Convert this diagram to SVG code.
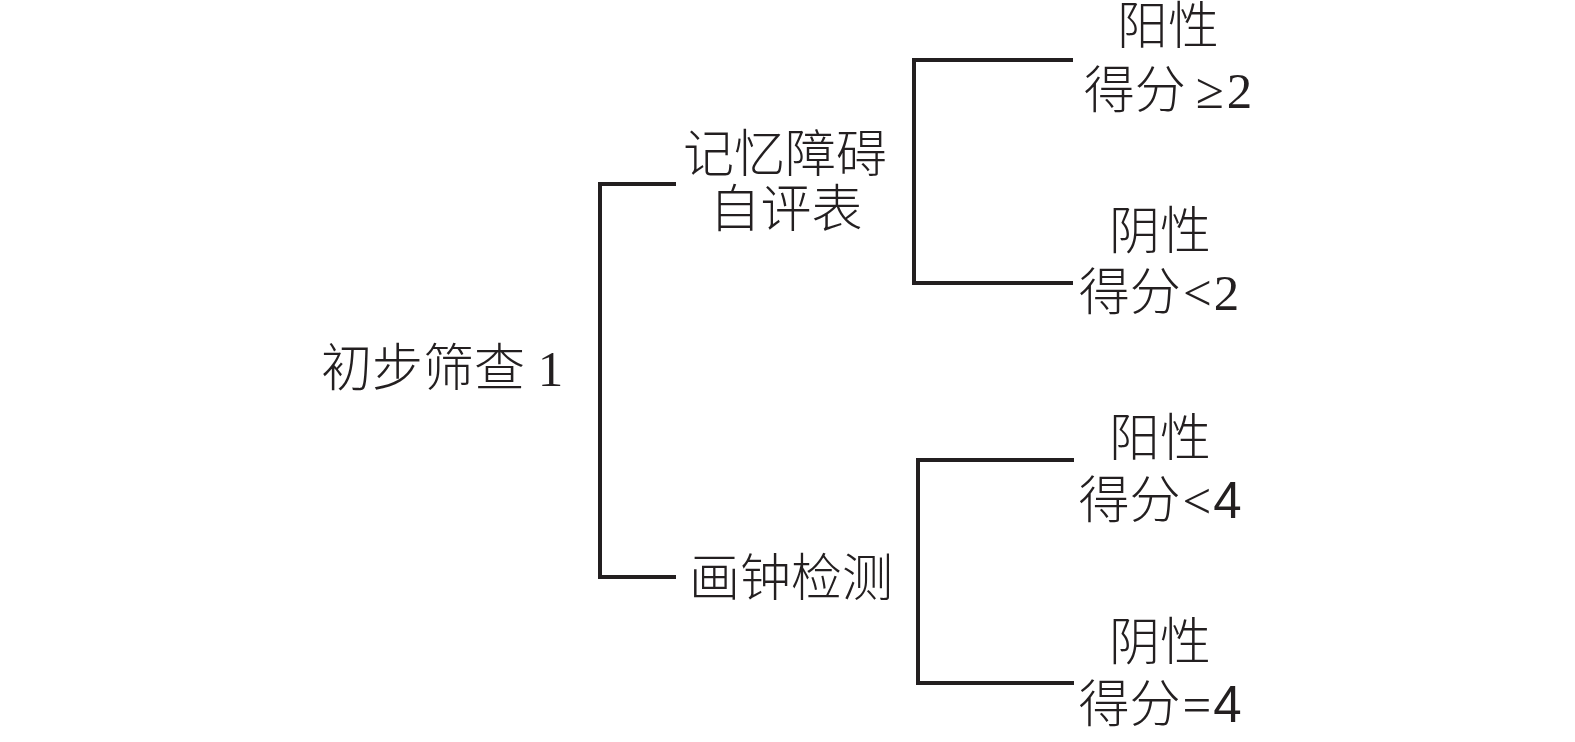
<svg xmlns="http://www.w3.org/2000/svg" width="1575" height="742" viewBox="0 0 1575 742">
<style>
.t{font-family:"Liberation Serif","Noto Sans CJK SC",serif;font-size:51px;font-weight:300;fill:#231f20}
.m{text-anchor:middle}
.s{font-family:"Liberation Sans","Noto Sans CJK SC",sans-serif}
.c{fill:none;stroke:#231f20;stroke-width:4;stroke-linejoin:miter;stroke-linecap:butt}
</style>
<rect width="1575" height="742" fill="#fff"/>
<g id="connectors">
<path class="c" d="M676,184 H600 V577 H676"/>
<path class="c" d="M1073,60 H914 V283 H1073"/>
<path class="c" d="M1074,460 H918 V683 H1074"/>
</g>
<g id="root"><text class="t" x="321" y="386" xml:space="preserve">初步筛查 1</text></g>
<g id="memory"><text class="t m" x="785" y="172">记忆障碍</text><text class="t m" x="786" y="227">自评表</text></g>
<g id="clock"><text class="t m" x="791" y="596">画钟检测</text></g>
<g id="mem-pos"><text class="t m" x="1168" y="44">阳性</text><text class="t m" x="1168" y="108">得分<tspan dx="10">≥</tspan><tspan dx="3">2</tspan></text></g>
<g id="mem-neg"><text class="t m" x="1160" y="249">阴性</text><text class="t m" x="1159" y="310">得分<tspan dx="2">&lt;</tspan><tspan dx="2">2</tspan></text></g>
<g id="clock-pos"><text class="t m" x="1160" y="456">阳性</text><text class="t m" x="1160" y="518">得分<tspan dx="2">&lt;</tspan><tspan class="s" dx="2">4</tspan></text></g>
<g id="clock-neg"><text class="t m" x="1160" y="660">阴性</text><text class="t m" x="1160" y="722">得分<tspan dx="2">=</tspan><tspan class="s" dx="2">4</tspan></text></g>
</svg>
